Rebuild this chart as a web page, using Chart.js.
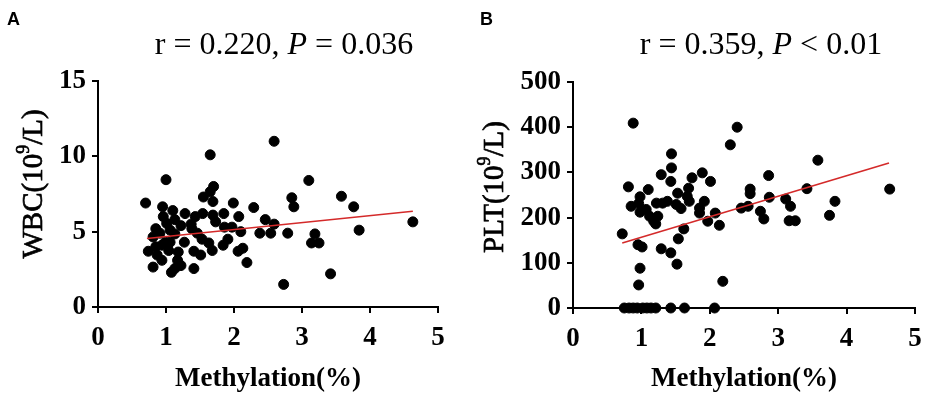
<!DOCTYPE html>
<html>
<head>
    <title>Methylation vs WBC / PLT</title>
    <style>
        body{ margin:0; background:white; }
        .panel{ position:absolute; top:0; }
    </style>
</head>
<body>
<div class="panel" style="left:0px"><canvas id="wbc" width="467" height="404"></canvas></div>
<div class="panel" style="left:467px"><canvas id="plt" width="468" height="404"></canvas></div>

<script src="https://cdn.jsdelivr.net/npm/chart.js@4.4.1/dist/chart.umd.min.js"></script>
<script>

    // panel A: methylation (%) vs WBC (10^9/L)
    const wbcX = [0.70, 1.00, 1.65, 2.59, 3.10, 3.58, 3.76, 2.85, 2.88, 2.29, 1.99, 4.63, 3.84, 3.19, 3.14, 3.25,
        3.42, 2.73, 2.79, 2.54, 2.59, 2.46, 2.38, 2.19, 2.13, 2.06, 2.10, 2.07, 1.91, 1.84, 1.97, 1.86, 1.85,
        1.73, 1.69, 1.70, 1.65, 1.55, 1.69, 1.54, 1.43, 1.37, 1.53, 1.63, 1.68, 1.51, 1.41, 1.41, 1.28, 1.22,
        1.10, 0.95, 0.96, 1.13, 1.13, 1.27, 1.18, 1.17, 1.13, 1.08, 1.22, 0.85, 0.81, 0.91, 0.99, 0.94, 0.85,
        0.74, 0.87, 0.81, 0.94, 1.06, 1.04, 1.38, 1.46, 1.01, 1.06];
    const wbcY = [6.9, 8.45, 10.1, 11.0, 8.4, 7.35, 6.65, 7.25, 6.65, 6.6, 6.9, 5.65, 5.1, 4.85, 4.25, 4.25,
        2.2, 1.5, 4.9, 4.9, 5.5, 5.8, 4.9, 2.95, 3.9, 3.7, 5.0, 6.0, 4.5, 4.1, 5.3, 5.3, 6.2,
        5.65, 6.1, 8.0, 7.65, 7.3, 7.0, 6.2, 6.0, 5.5, 4.5, 4.25, 3.75, 3.45, 2.55, 3.7, 6.2, 5.4,
        6.4, 6.65, 6.0, 5.8, 4.85, 4.3, 3.65, 3.1, 2.55, 2.3, 2.75, 5.2, 4.65, 4.9, 4.3, 4.1, 4.0,
        3.7, 3.45, 2.65, 3.1, 5.1, 3.75, 5.2, 4.9, 5.55, 4.3];
    const wbcFitX = [0.72, 4.63];
    const wbcFitY = [4.55, 6.35];

    // panel B: methylation (%) vs PLT (10^9/L)
    const pltX = [0.88, 2.40, 2.30, 3.58, 1.44, 1.44, 1.29, 1.43, 1.89, 1.74, 2.01, 2.86, 4.63, 3.42, 0.81, 1.10,
        1.69, 1.53, 1.67, 2.59, 2.59, 2.87, 3.11, 3.18, 3.83, 3.75, 3.16, 3.25, 2.74, 2.79, 2.46, 2.56,
        2.08, 1.97, 2.14, 1.92, 1.85, 1.85, 1.70, 1.51, 1.58, 1.38, 1.31, 1.22, 0.98, 0.96, 0.85, 0.98,
        1.07, 1.12, 1.18, 1.24, 1.21, 1.62, 1.54, 0.72, 0.95, 1.01, 1.29, 1.43, 1.52, 0.98, 0.96, 2.19,
        0.75, 0.82, 0.88, 0.94, 1.02, 1.08, 1.14, 1.21, 1.43, 1.63, 2.07];
    const pltY = [409, 400, 361, 327, 341, 310, 295, 280, 299, 288, 280, 293, 263, 264, 268, 262,
        265, 254, 247, 263, 253, 245, 241, 225, 236, 205, 193, 193, 214, 197, 221, 225,
        210, 192, 183, 236, 221, 210, 236, 229, 220, 236, 232, 232, 246, 231, 225, 212,
        218, 203, 192, 203, 186, 175, 153, 164, 140, 135, 131, 122, 97, 88, 51, 59,
        0, 0, 0, 0, 0, 0, 0, 0, 0, 0, 0];
    const pltFitX = [0.72, 4.62];
    const pltFitY = [144, 321];

    const xTicks = [0, 1, 2, 3, 4, 5];

    function pairs(xs, ys) {
        return xs.map((x, i) => ({x: x, y: ys[i]}));
    }

    function drawParts(ctx, parts, x, y, stroke) {
        parts.forEach(p => {
            ctx.font = p.font;
            ctx.fillText(p.text, x, y - (p.rise || 0));
            if (stroke) ctx.strokeText(p.text, x, y - (p.rise || 0));
            x += ctx.measureText(p.text).width;
        });
    }

    function partsWidth(ctx, parts) {
        let w = 0;
        parts.forEach(p => { ctx.font = p.font; w += ctx.measureText(p.text).width; });
        return w;
    }

    // headline "r = ..., P = ..." with italic P, panel letter and the y title with a raised 9
    const annotations = {
        id: 'annotations',
        afterDraw(chart, args, opts) {
            const ctx = chart.ctx;
            ctx.save();
            ctx.fillStyle = '#000';
            ctx.strokeStyle = '#000';
            ctx.textBaseline = 'alphabetic';
            ctx.textAlign = 'left';
            ctx.font = 'bold 18px "Liberation Sans"';
            ctx.fillText(opts.letter, opts.letterX, 25);

            const head = opts.head.map(p => ({
                text: p.text,
                font: (p.italic ? 'italic ' : '') + '32px "Liberation Serif"'
            }));
            drawParts(ctx, head, opts.headX - partsWidth(ctx, head) / 2, 54, false);

            const main = '29px "Liberation Serif"';
            const sup = '18px "Liberation Serif"';
            const ytitle = [
                {text: opts.yName + '(10', font: main},
                {text: '9', font: sup, rise: 13},
                {text: '/L)', font: main}
            ];
            const w = partsWidth(ctx, ytitle);
            ctx.translate(opts.yTitleX, opts.yTitleY);
            ctx.rotate(-Math.PI / 2);
            ctx.lineWidth = 0.7;
            drawParts(ctx, ytitle, -w / 2, 0, true);
            ctx.restore();
        }
    };

    const tickFont = {family: 'Liberation Serif', weight: 'bold', size: 27};

    function makeChart(id, cfg) {
        return new Chart(id, {
            type: 'scatter',
            data: {
                datasets: [{
                    data: cfg.points,
                    backgroundColor: '#000',
                    borderColor: '#000',
                    pointRadius: 5,
                    pointHoverRadius: 5,
                    clip: false,
                    order: 2
                }, {
                    type: 'line',
                    data: cfg.fit,
                    borderColor: '#d42a2a',
                    borderWidth: 1.6,
                    pointRadius: 0,
                    fill: false,
                    order: 1
                }]
            },
            options: {
                responsive: false,
                animation: false,
                layout: {padding: {top: cfg.top, right: cfg.right, left: 0, bottom: 0}},
                plugins: {
                    legend: {display: false},
                    tooltip: {enabled: false},
                    annotations: {
                        letter: cfg.letter, letterX: cfg.letterX, headX: cfg.headX, head: cfg.head,
                        yName: cfg.yName, yTitleX: cfg.yTitleX, yTitleY: cfg.yTitleY
                    }
                },
                scales: {
                    x: {
                        type: 'linear', min: 0, max: 5,
                        afterBuildTicks: s => { s.ticks = xTicks.map(v => ({value: v})); },
                        ticks: {color: '#000', font: tickFont, padding: 9},
                        grid: {drawOnChartArea: false, drawTicks: true, tickLength: 6, color: '#000', lineWidth: 2},
                        border: {color: '#000', width: 2},
                        title: {display: true, text: 'Methylation(%)', color: '#000', font: tickFont, padding: {bottom: 9}},
                        afterFit: s => { s.height = 404 - cfg.bottomY; }
                    },
                    y: {
                        type: 'linear', min: 0, max: cfg.yMax,
                        afterBuildTicks: s => { s.ticks = cfg.yTicks.map(v => ({value: v})); },
                        ticks: {color: '#000', font: tickFont, padding: 6},
                        grid: {drawOnChartArea: false, drawTicks: true, tickLength: 6, color: '#000', lineWidth: 2},
                        border: {color: '#000', width: 2},
                        afterFit: s => { s.width = cfg.axisX; }
                    }
                }
            },
            plugins: [annotations]
        });
    }

    makeChart('wbc', {
        points: pairs(wbcX, wbcY),
        fit: pairs(wbcFitX, wbcFitY),
        yMax: 15, yTicks: [0, 5, 10, 15],
        yName: 'WBC', yTitleX: 42, yTitleY: 184,
        top: 81, right: 29, bottomY: 307, axisX: 98,
        letter: 'A', letterX: 7, headX: 284,
        head: [{text: 'r = 0.220, '}, {text: 'P', italic: true}, {text: ' = 0.036'}]
    });

    makeChart('plt', {
        points: pairs(pltX, pltY),
        fit: pairs(pltFitX, pltFitY),
        yMax: 500, yTicks: [0, 100, 200, 300, 400, 500],
        yName: 'PLT', yTitleX: 36, yTitleY: 187,
        top: 82, right: 20, bottomY: 308, axisX: 106,
        letter: 'B', letterX: 13, headX: 294,
        head: [{text: 'r = 0.359, '}, {text: 'P', italic: true}, {text: ' < 0.01'}]
    });

</script>
</body>
</html>
